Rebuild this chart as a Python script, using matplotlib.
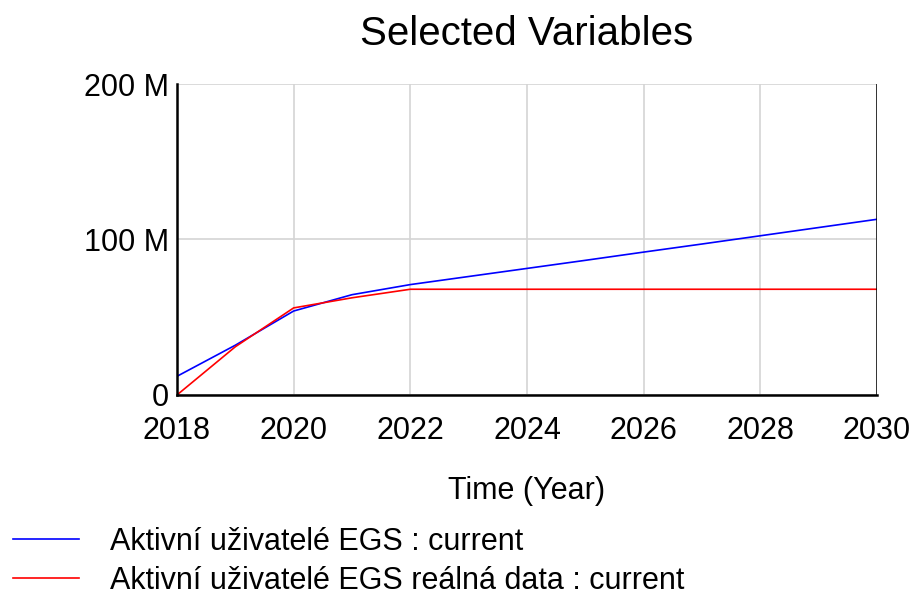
import matplotlib
matplotlib.use("Agg")
import matplotlib.pyplot as plt

plt.rcParams['font.family'] = ['Liberation Sans', 'DejaVu Sans']

# years and series values (millions)
years = [2018, 2019, 2020, 2021, 2022, 2023, 2024, 2025, 2026, 2027, 2028, 2029, 2030]
model_users = [12, 32, 54, 64.5, 71, 76.2, 81.4, 86.6, 91.9, 97.1, 102.4, 107.7, 113]
real_users = [0, 31, 56, 62.5, 68, 68, 68, 68, 68, 68, 68, 68, 68]
legends = ["Aktivní uživatelé EGS : current",
           "Aktivní uživatelé EGS reálná data : current"]
xticks = [2018, 2020, 2022, 2024, 2026, 2028, 2030]
yticks = [0, 100, 200]
ytick_labels = ["0", "100 M", "200 M"]

fontsize = 22

fig = plt.figure(figsize=(9.15, 5.98), dpi=100)
ax = fig.add_axes([0.1934, 0.3395, 0.7651, 0.52])

l1, = ax.plot(years, model_users, color="#0000ff", lw=1.2)
l2, = ax.plot(years, real_users, color="#ff0000", lw=1.2)

ax.set_xlim(2018, 2030)
ax.set_ylim(0, 200)
ax.set_xticks(xticks)
ax.set_xticklabels([str(t) for t in xticks], fontsize=fontsize)
ax.set_yticks(yticks)
ax.set_yticklabels(ytick_labels, fontsize=fontsize)
ax.tick_params(axis='x', length=0, pad=15)
ax.tick_params(axis='y', length=0, pad=6)
ax.grid(True, color="#d4d4d4", lw=1.2)
ax.set_axisbelow(True)
for side in ['top', 'right']:
    ax.spines[side].set_visible(False)
for side in ['left', 'bottom']:
    ax.spines[side].set_linewidth(1.8)
ax.axvline(2030, color='black', lw=1.8)

ax.set_title("Selected Variables", fontsize=29, pad=28)
ax.set_xlabel("Time (Year)", fontsize=fontsize, labelpad=22)

fig.legend([l1, l2], legends, loc='upper left', bbox_to_anchor=(0.0044, 0.1345),
           frameon=False, fontsize=fontsize, handlelength=2.16, handletextpad=1.0,
           labelspacing=0.3, borderaxespad=0.0, borderpad=0.3)

plt.savefig("out.png", dpi=100)
